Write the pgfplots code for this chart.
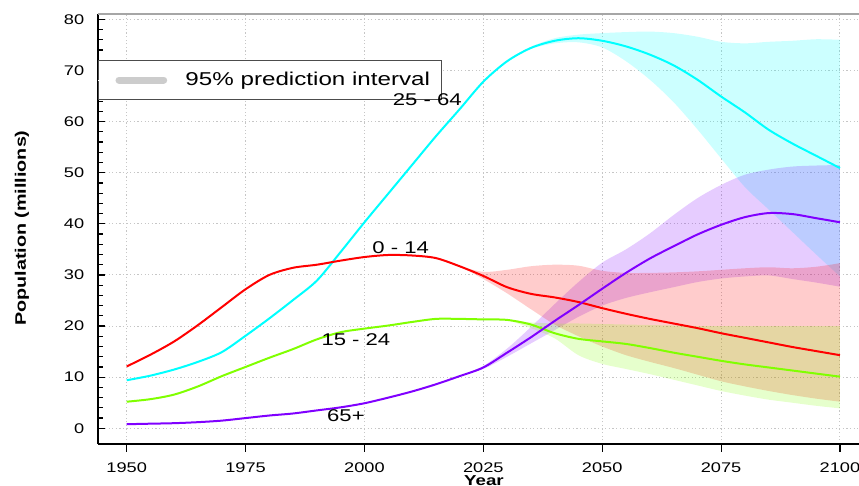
\documentclass[border=0pt]{standalone}
\usepackage{fontspec}
\setmainfont{Liberation Sans}[FakeStretch=1.3]
\usepackage{pgfplots}
\pgfplotsset{compat=1.18}
\usepgfplotslibrary{fillbetween}

\definecolor{cCyan}{RGB}{0,255,255}
\definecolor{cRed}{RGB}{255,0,0}
\definecolor{cGreen}{RGB}{128,255,0}
\definecolor{cPurple}{RGB}{128,0,255}
\definecolor{cLegend}{RGB}{204,204,204}

\begin{document}
\begin{tikzpicture}
\begin{axis}[
  at={(48.85pt,21pt)}, anchor=south west,
  scale only axis, width=380.65pt, height=215pt,
  xmin=1943.9, xmax=2104, ymin=-3.07, ymax=81.04,
  axis lines=left,
  axis line style={-, line width=0.9pt, black},
  xtick={1950,1975,...,2100},
  ytick={0,10,...,80},
  minor y tick num=4,
  tick align=inside,
  major tick length=3.85pt, minor tick length=2.8pt,
  tick style={black, line width=0.6pt},
  xtick style={yshift=-3.85pt},
  /pgf/number format/assume math mode=true,
  /pgf/number format/1000 sep={},
  tick label style={font=\fontsize{7}{8}\selectfont},
  xticklabel style={yshift=-5.9pt},
  yticklabel style={xshift=-3.2pt},
  grid=major,
  grid style={gray!45, line width=0.5pt, dash pattern=on 0.6pt off 1.2pt},
  xlabel={Year}, ylabel={Population (millions)},
  every axis x label/.style={at={(axis description cs:0.5074,-0.0733)}, anchor=north, inner sep=0pt, font=\bfseries\fontsize{7.2}{8.5}\selectfont},
  every axis y label/.style={at={(axis description cs:-0.0994,0.502)}, rotate=90, anchor=center, inner sep=0pt, font=\bfseries\fontsize{7.6}{9}\selectfont},
  legend style={at={(axis description cs:0,0.893)}, anchor=north west,
    draw=black!70, line width=0.5pt, fill=white,
    inner xsep=0pt, inner ysep=0pt,
    font=\fontsize{9.3}{11}\selectfont,
    nodes={inner sep=0pt, minimum height=19.5pt}},
  legend cell align=left,
  extra description/.code={\draw[gray!70, line width=0.7pt] (axis description cs:0,1) -- (axis description cs:1,1);},
]
\addlegendimage{legend image code/.code={\draw[white, line width=0pt] (0pt,0) -- (34.5pt,0); \draw[cLegend, line width=3.5pt, line cap=round] (10.4pt,0) -- (32.75pt,0);}}
\addlegendentry{\hspace*{9.15pt}95\% prediction interval\hspace*{5.5pt}}

% prediction intervals
\addplot[name path=cu, draw=none, smooth] coordinates {
(2030,71.9) (2035,74.6) (2040,76.3) (2045,77.0) (2050,77.3) (2055,77.5) (2060,77.6) (2065,77.3) (2070,76.6) (2075,75.6) (2080,75.3) (2085,75.6) (2090,75.8) (2095,76.1) (2100,76.0)};
\addplot[name path=cl, draw=none, smooth] coordinates {
(2030,71.9) (2035,74.2) (2040,75.3) (2045,75.5) (2050,74.5) (2055,71.8) (2060,68.2) (2065,63.8) (2070,58.5) (2075,52.8) (2080,47.2) (2085,42.8) (2090,38.4) (2095,34.0) (2100,29.7)};
\addplot[cCyan, fill opacity=0.2, draw=none] fill between[of=cu and cl];

\addplot[name path=pu, draw=none, smooth] coordinates {
(2020,10.2) (2025,12.2) (2030,15.6) (2035,19.8) (2040,24.3) (2045,28.6) (2050,32.4) (2055,35.0) (2060,38.1) (2065,41.7) (2070,45.0) (2075,47.6) (2080,49.6) (2085,50.6) (2090,51.2) (2095,51.4) (2100,51.5)};
\addplot[name path=pl, draw=none, smooth] coordinates {
(2020,10.2) (2025,11.6) (2030,14.0) (2035,16.6) (2040,19.2) (2045,21.8) (2050,24.0) (2055,25.5) (2060,26.6) (2065,27.6) (2070,28.6) (2075,29.3) (2080,29.7) (2085,29.9) (2090,29.2) (2095,28.5) (2100,27.7)};
\addplot[cPurple, fill opacity=0.2, draw=none] fill between[of=pu and pl];

\addplot[name path=ru, draw=none, smooth] coordinates {
(2020,31.7) (2025,30.6) (2030,31.0) (2035,31.7) (2040,32.0) (2045,31.8) (2050,30.8) (2055,30.4) (2060,30.4) (2065,30.5) (2070,30.7) (2075,31.0) (2080,31.3) (2085,31.5) (2090,31.3) (2095,31.6) (2100,32.3)};
\addplot[name path=rl, draw=none, smooth] coordinates {
(2020,31.7) (2025,29.2) (2030,26.4) (2035,23.3) (2040,20.3) (2045,18.0) (2050,16.0) (2055,14.3) (2060,13.0) (2065,11.8) (2070,10.5) (2075,9.2) (2080,8.2) (2085,7.3) (2090,6.5) (2095,5.8) (2100,5.2)};
\addplot[cRed, fill opacity=0.2, draw=none] fill between[of=ru and rl];

\addplot[name path=gu, draw=none, smooth] coordinates {
(2030,21.2) (2035,20.7) (2040,20.5) (2045,20.5) (2050,20.4) (2055,20.3) (2060,20.2) (2065,20.1) (2070,20.0) (2075,20.0) (2080,20.0) (2085,20.0) (2090,20.0) (2095,20.0) (2100,20.0)};
\addplot[name path=gl, draw=none, smooth] coordinates {
(2030,21.2) (2035,19.6) (2040,17.6) (2045,14.3) (2050,12.6) (2055,11.6) (2060,10.6) (2065,9.5) (2070,8.4) (2075,7.3) (2080,6.4) (2085,5.6) (2090,5.0) (2095,4.4) (2100,3.9)};
\addplot[cGreen, fill opacity=0.2, draw=none] fill between[of=gu and gl];

% median projections
\addplot[cCyan, line width=1pt, smooth] coordinates {
(1950,9.4) (1955,10.3) (1960,11.5) (1965,13.0) (1970,14.9) (1975,18.1) (1980,21.5) (1985,25.1) (1990,28.9) (1995,34.5) (2000,40.3) (2005,45.9) (2010,51.5) (2015,57.1) (2020,62.4) (2025,67.8) (2030,71.8) (2035,74.4) (2040,75.8) (2045,76.3) (2050,75.8) (2055,74.7) (2060,73.1) (2065,71.0) (2070,68.2) (2075,64.9) (2080,61.8) (2085,58.4) (2090,55.7) (2095,53.3) (2100,50.9)};
\addplot[cRed, line width=1pt, smooth] coordinates {
(1950,12.1) (1955,14.4) (1960,17.0) (1965,20.2) (1970,23.7) (1975,27.2) (1980,30.0) (1985,31.4) (1990,32.0) (1995,32.8) (2000,33.5) (2005,33.9) (2010,33.8) (2015,33.3) (2020,31.7) (2025,29.8) (2030,27.6) (2035,26.3) (2040,25.6) (2045,24.7) (2050,23.5) (2055,22.4) (2060,21.4) (2065,20.5) (2070,19.6) (2075,18.6) (2080,17.7) (2085,16.8) (2090,15.9) (2095,15.1) (2100,14.3)};
\addplot[cGreen, line width=1pt, smooth] coordinates {
(1950,5.2) (1955,5.7) (1960,6.6) (1965,8.2) (1970,10.2) (1975,12.0) (1980,13.8) (1985,15.5) (1990,17.4) (1995,18.8) (2000,19.5) (2005,20.1) (2010,20.8) (2015,21.4) (2020,21.4) (2025,21.3) (2030,21.2) (2035,20.3) (2040,18.6) (2045,17.5) (2050,17.0) (2055,16.5) (2060,15.7) (2065,14.8) (2070,14.0) (2075,13.2) (2080,12.5) (2085,11.9) (2090,11.3) (2095,10.7) (2100,10.1)};
\addplot[cPurple, line width=1pt, smooth] coordinates {
(1950,0.8) (1955,0.9) (1960,1.0) (1965,1.2) (1970,1.5) (1975,2.0) (1980,2.5) (1985,2.9) (1990,3.5) (1995,4.1) (2000,4.9) (2005,6.0) (2010,7.2) (2015,8.6) (2020,10.2) (2025,11.9) (2030,14.8) (2035,17.8) (2040,21.0) (2045,24.1) (2050,27.3) (2055,30.4) (2060,33.2) (2065,35.6) (2070,37.9) (2075,39.8) (2080,41.3) (2085,42.1) (2090,41.9) (2095,41.1) (2100,40.3)};

% label positions, set after the axis so they lie over the legend box
\coordinate (lA) at (axis cs:2013.2,64.2);
\coordinate (lB) at (axis cs:2007.6,35.4);
\coordinate (lC) at (axis cs:1998.2,17.3);
\coordinate (lD) at (axis cs:1996.1,2.45);
\end{axis}
\begin{scope}[every node/.style={inner sep=0pt, font=\fontsize{8.5}{10}\selectfont}]
\node at (lA) {25 - 64};
\node at (lB) {0 - 14};
\node at (lC) {15 - 24};
\node at (lD) {65+};
\end{scope}
\pgfresetboundingbox
\useasboundingbox (0,0) rectangle (429.5pt,243pt);
\end{tikzpicture}
\end{document}
